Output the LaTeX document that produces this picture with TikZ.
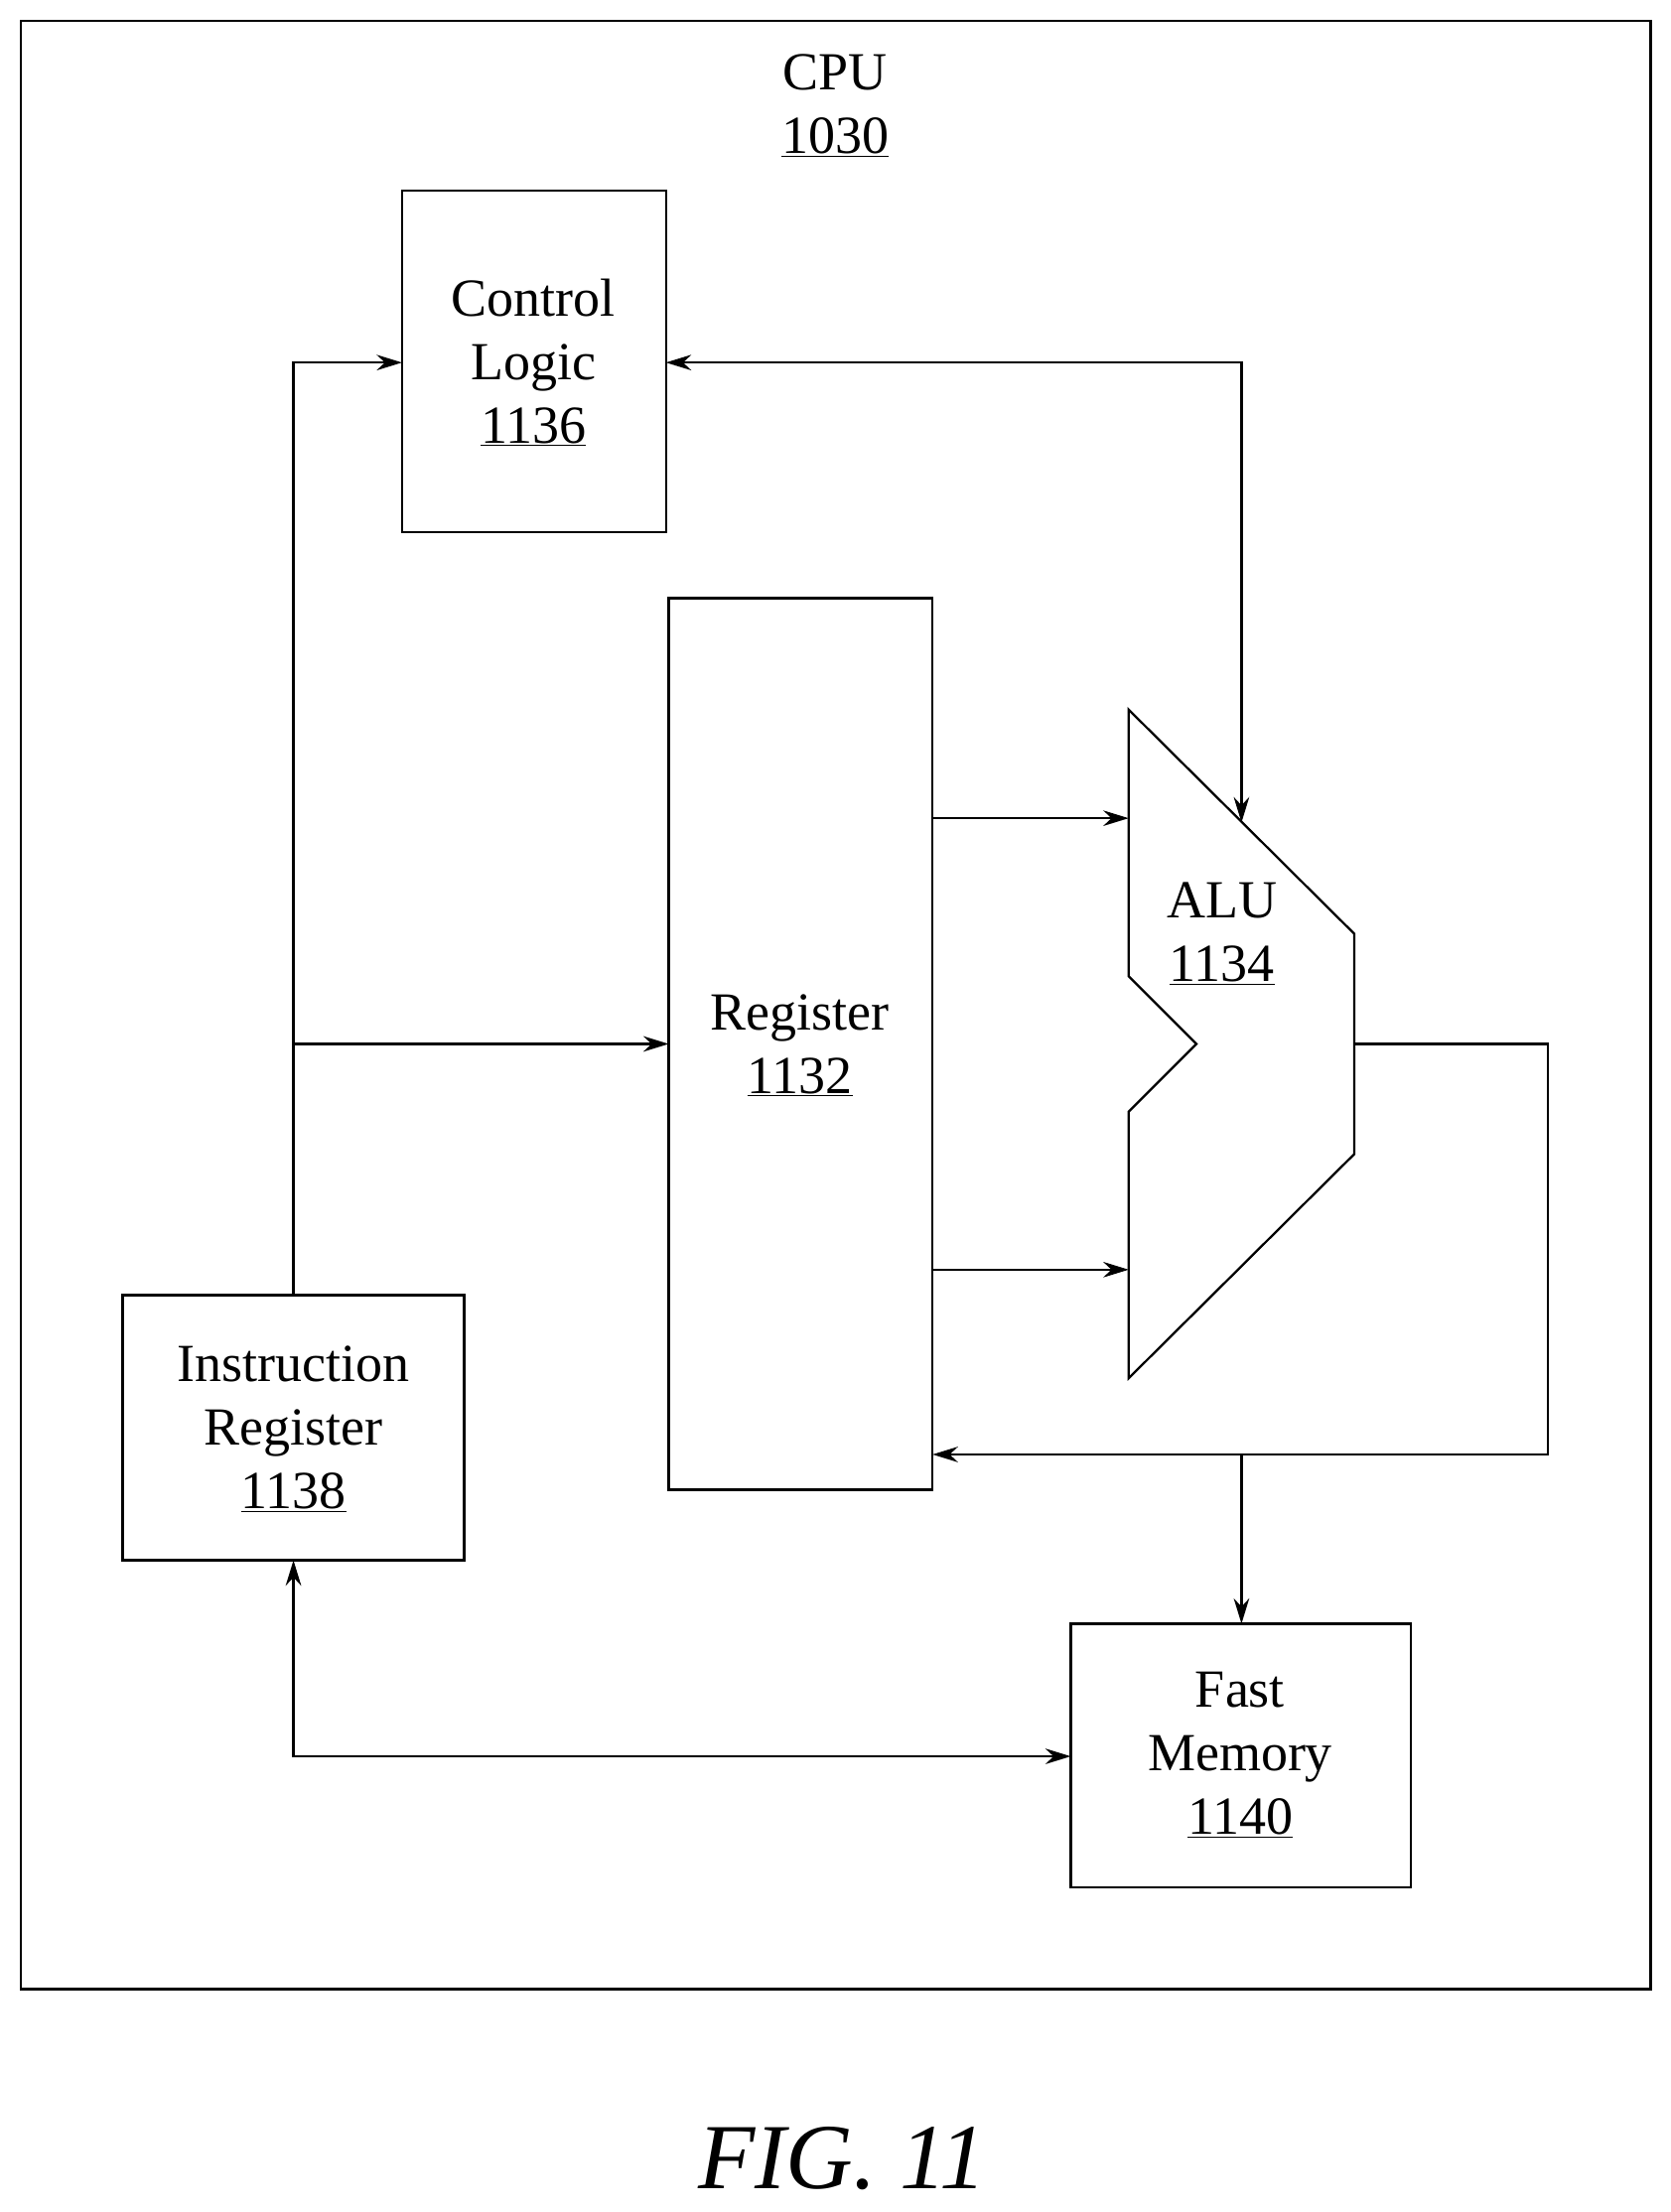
\documentclass[tikz,border=0pt]{standalone}
\usepackage{fontspec}
\setmainfont{Liberation Serif}
\usetikzlibrary{arrows.meta}
\begin{document}
\begin{tikzpicture}[x=1pt,y=-1pt,
  box/.style={draw,line width=1.6pt},
  lbl/.style={font=\fontsize{38}{45}\selectfont,align=center},
  conn/.style={line width=1.6pt,-{Stealth[length=18pt,width=11pt]}},
  dconn/.style={line width=1.6pt,{Stealth[length=18pt,width=11pt]}-{Stealth[length=18pt,width=11pt]}}]
\useasboundingbox (0,0) rectangle (1184,1568);
\draw[box] (15,15) rectangle (1170,1410);
\node[lbl] (cpu) at (592,75) {CPU\\\underline{1030}};
\draw[box] (285,135) rectangle (472,377);
\node[lbl] (cl) at (378,257) {Control\\Logic\\\underline{1136}};
\draw[box] (474,424) rectangle (661,1056);
\node[lbl] (reg) at (567,741) {Register\\\underline{1132}};
\draw[box] (800,503) -- (960,662) -- (960,818) -- (800,977) -- (800,788) -- (848,740) -- (800,692) -- cycle;
\node[lbl] (alu) at (866,662) {ALU\\\underline{1134}};
\draw[box] (87,918) rectangle (329,1106);
\node[lbl] (ir) at (208,1013) {Instruction\\Register\\\underline{1138}};
\draw[box] (759,1151) rectangle (1000,1338);
\node[lbl] (fm) at (879,1244) {Fast\\Memory\\\underline{1140}};
\coordinate (b) at (208,740);
\draw[conn] (208,918) -- (208,257) -- (285,257);
\draw[conn] (b) -- (474,740);
\draw[dconn] (472,257) -- (880,257) -- (880,583);
\draw[conn] (661,580) -- (800,580);
\draw[conn] (661,900) -- (800,900);
\draw[conn] (960,740) -- (1097,740) -- (1097,1031) -- (661,1031);
\draw[conn] (880,1031) -- (880,1151);
\draw[dconn] (208,1106) -- (208,1245) -- (759,1245);
\node[font=\fontsize{66}{70}\selectfont\itshape] (fig) at (597,1530) {FIG. 11};
\end{tikzpicture}
\end{document}
